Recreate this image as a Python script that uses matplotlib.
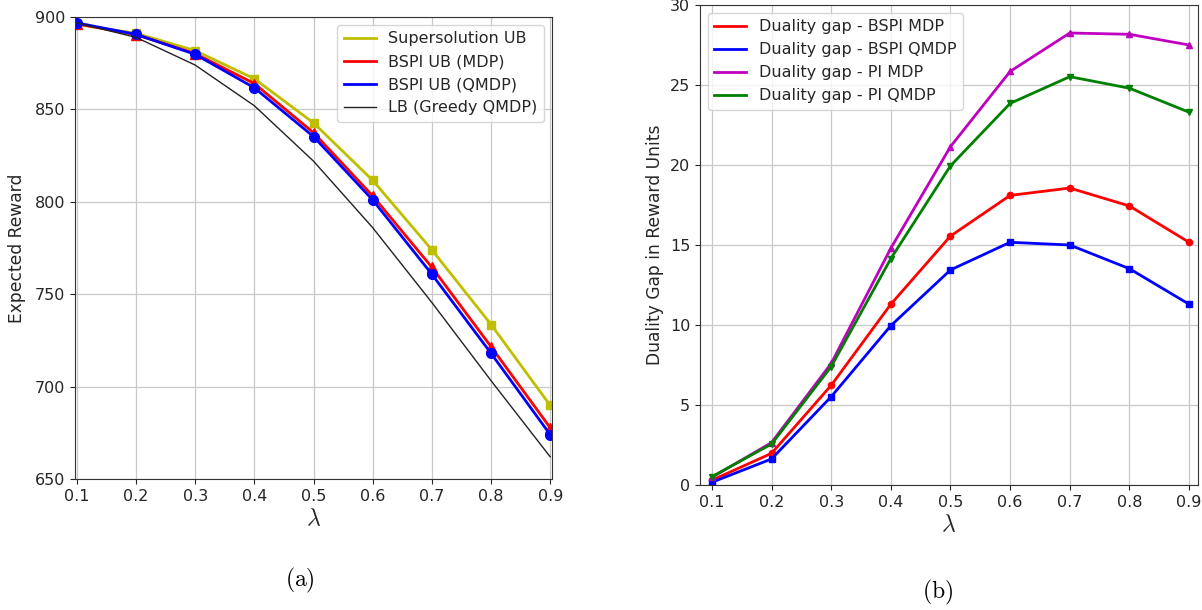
import matplotlib
matplotlib.use("Agg")
import matplotlib.pyplot as plt

lam = [0.1, 0.2, 0.3, 0.4, 0.5, 0.6, 0.7, 0.8, 0.9]

# Left panel: expected reward
super_ub = [896.0, 891.2, 881.8, 866.6, 842.7, 811.6, 774.0, 733.6, 689.8]
bspi_mdp = [896.3, 890.5, 880.2, 864.0, 837.4, 803.2, 764.6, 721.6, 677.7]
bspi_qmdp = [896.8, 890.6, 879.8, 861.7, 835.3, 801.0, 760.8, 718.0, 674.0]
lb_greedy = [896.8, 889.0, 874.0, 852.0, 822.0, 786.0, 745.5, 703.2, 662.0]

# Right panel: duality gaps
gap_bspi_mdp = [0.30, 1.98, 6.23, 11.30, 15.56, 18.10, 18.56, 17.44, 15.17]
gap_bspi_qmdp = [0.17, 1.63, 5.52, 9.96, 13.44, 15.17, 15.00, 13.52, 11.30]
gap_pi_mdp = [0.48, 2.65, 7.60, 14.80, 21.15, 25.85, 28.25, 28.17, 27.50]
gap_pi_qmdp = [0.52, 2.56, 7.40, 14.15, 19.95, 23.85, 25.52, 24.80, 23.30]

plt.rcParams['mathtext.fontset'] = 'cm'
plt.rcParams['text.color'] = '#262626'
plt.rcParams['axes.labelcolor'] = '#262626'
plt.rcParams['xtick.color'] = '#262626'
plt.rcParams['ytick.color'] = '#262626'
plt.rcParams['axes.edgecolor'] = '#333333'
W, H = 1202, 610
fig = plt.figure(figsize=(W / 100, H / 100), dpi=100)

def ax_px(l, t, r, b):
    return fig.add_axes([l / W, 1 - b / H, (r - l) / W, (b - t) / H])

tick_fs = 11.5
lab_fs = 12.3
grid_c = '#c8c8c8'

ax1 = ax_px(75, 17, 552, 479)
ax1.plot(lam, super_ub, color='y', lw=2, marker='s', ms=6, label='Supersolution UB')
ax1.plot(lam, bspi_mdp, color='r', lw=2, marker='^', ms=7, label='BSPI UB (MDP)')
ax1.plot(lam, bspi_qmdp, color='b', lw=2, marker='o', ms=7, label='BSPI UB (QMDP)')
ax1.plot(lam, lb_greedy, color='#222222', lw=1, label='LB (Greedy QMDP)')
ax1.set_xlim(0.097, 0.903)
ax1.set_ylim(650, 900)
ax1.set_xticks(lam)
ax1.set_yticks([650, 700, 750, 800, 850, 900])
ax1.grid(True, color=grid_c, lw=0.9)
ax1.tick_params(labelsize=tick_fs)
ax1.set_ylabel('Expected Reward', fontsize=lab_fs, labelpad=6)
ax1.set_xlabel(r'$\lambda$', fontsize=17, labelpad=2)
leg1 = ax1.legend(loc='upper right', fontsize=tick_fs, handlelength=2.0)
for h in leg1.get_lines():
    h.set_marker('')

ax2 = ax_px(700, 5, 1198, 485)
ax2.plot(lam, gap_bspi_mdp, color='r', lw=2, marker='o', ms=4.5, label='Duality gap - BSPI MDP')
ax2.plot(lam, gap_bspi_qmdp, color='b', lw=2, marker='s', ms=4.5, label='Duality gap - BSPI QMDP')
ax2.plot(lam, gap_pi_mdp, color='m', lw=2, marker='^', ms=4.5, label='Duality gap - PI MDP')
ax2.plot(lam, gap_pi_qmdp, color='g', lw=2, marker='v', ms=4.5, label='Duality gap - PI QMDP')
ax2.set_xlim(0.08, 0.915)
ax2.set_ylim(0, 30)
ax2.set_xticks(lam)
ax2.set_yticks([0, 5, 10, 15, 20, 25, 30])
ax2.grid(True, color=grid_c, lw=0.9)
ax2.tick_params(labelsize=tick_fs)
ax2.set_ylabel('Duality Gap in Reward Units', fontsize=lab_fs)
ax2.set_xlabel(r'$\lambda$', fontsize=17, labelpad=2)
leg2 = ax2.legend(loc='upper left', fontsize=tick_fs, handlelength=2.0)
for h in leg2.get_lines():
    h.set_marker('')

fig.text(300 / W, 1 - 580 / H, r'$(\mathrm{a})$', fontsize=17, ha='center', va='center', color='black')
fig.text(938 / W, 1 - 592 / H, r'$(\mathrm{b})$', fontsize=17, ha='center', va='center', color='black')

fig.savefig('out.png', dpi=100)
